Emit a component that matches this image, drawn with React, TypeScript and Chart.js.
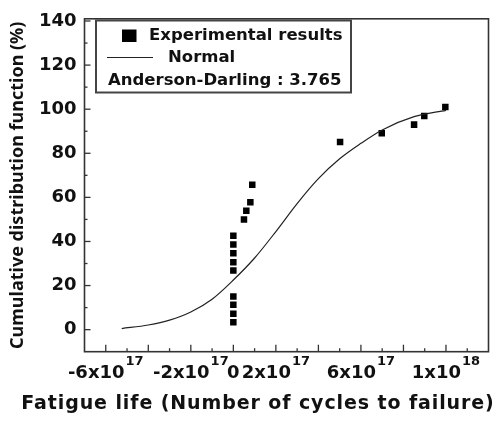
import React, { useEffect, useRef } from 'react';
import { Chart, registerables } from 'chart.js';

Chart.register(...registerables);

// Experimental results (x in units of 1e17 cycles, y in %)
const expX = [0, 0, 0, 0, 0, 0, 0, 0, 0, 0.5, 0.61, 0.8, 0.89, 5.02, 6.98, 8.5, 8.98, 9.97];
const expY = [3.4, 7.2, 11.3, 15.0, 26.8, 30.6, 34.7, 38.6, 42.6, 50.0, 53.9, 57.8, 65.7, 85.1, 89.1, 93.0, 96.9, 101.0];

// Normal fit curve
const normX = [-5.25, -4, -3, -2, -1, 0, 1, 2, 3, 4, 5, 6, 7, 8.5, 10];
const normY = [0.5, 2.1, 4.3, 8.0, 13.8, 22.5, 32.5, 44.5, 57.2, 68.5, 77.5, 84.5, 90.6, 96.6, 99.5];

const yTickValues = [0, 20, 40, 60, 80, 100, 120, 140];
const yMinorTicks = [10, 30, 50, 70, 90, 110, 130];
const xMajorTicks = [-6, -4, -2, 0, 2, 4, 6, 8, 10];
const xMinorTicks = [-5, -3, -1, 1, 3, 5, 7, 9, 11];
const xLabelValues = [-6, -2, 0, 2, 6, 10];
const xLabelBase = ['-6x10', '-2x10', '0', '2x10', '6x10', '1x10'];
const xLabelExp = ['17', '17', '', '17', '17', '18'];

const legendLabels = ['Experimental results', 'Normal', 'Anderson-Darling : 3.765'];
const xTitle = 'Fatigue life (Number of cycles to failure)';
const yTitle = 'Cumulative distribution function (%)';

const FONT = '"DejaVu Sans", sans-serif';

const decor = {
  id: 'decor',
  afterDraw(chart: any) {
    const { ctx, chartArea: a, scales } = chart;
    const x = scales.x;
    const y = scales.y;
    ctx.save();
    ctx.strokeStyle = '#333';
    ctx.lineWidth = 1.3;
    const seg = (x1: number, y1: number, x2: number, y2: number) => {
      ctx.beginPath();
      ctx.moveTo(x1, y1);
      ctx.lineTo(x2, y2);
      ctx.stroke();
    };
    xMajorTicks.forEach((v) => { const p = x.getPixelForValue(v); seg(p, a.bottom, p, a.bottom - 7); });
    xMinorTicks.forEach((v) => { const p = x.getPixelForValue(v); seg(p, a.bottom, p, a.bottom - 3.5); });
    yTickValues.forEach((v) => { const p = y.getPixelForValue(v); seg(a.left, p, a.left + 6, p); });
    yMinorTicks.forEach((v) => { const p = y.getPixelForValue(v); seg(a.left, p, a.left + 3, p); });

    // frame
    ctx.lineWidth = 1.6;
    ctx.strokeStyle = '#333';
    ctx.strokeRect(a.left, a.top, a.right - a.left, a.bottom - a.top);

    // x tick labels with superscript exponents
    ctx.fillStyle = '#111';
    ctx.textBaseline = 'alphabetic';
    ctx.textAlign = 'left';
    xLabelValues.forEach((v, i) => {
      const p = x.getPixelForValue(v);
      ctx.font = `bold 18px ${FONT}`;
      const wb = ctx.measureText(xLabelBase[i]).width;
      ctx.font = `bold 13px ${FONT}`;
      const we = xLabelExp[i] ? ctx.measureText(xLabelExp[i]).width + 1 : 0;
      const start = p - (wb + we) / 2;
      ctx.font = `bold 18px ${FONT}`;
      ctx.fillText(xLabelBase[i], start, 378);
      if (xLabelExp[i]) {
        ctx.font = `bold 13px ${FONT}`;
        ctx.fillText(xLabelExp[i], start + wb + 1, 365);
      }
    });

    // x title
    ctx.font = `bold 19px ${FONT}`;
    (ctx as any).letterSpacing = '0.9px';
    ctx.textAlign = 'center';
    ctx.textBaseline = 'middle';
    ctx.fillText(xTitle, 258, 404);
    (ctx as any).letterSpacing = '0px';

    // legend box
    ctx.lineWidth = 2;
    ctx.strokeStyle = '#444';
    ctx.strokeRect(96, 20.5, 255, 72);
    ctx.fillStyle = '#000';
    ctx.fillRect(122, 29.5, 14.5, 12.5);
    ctx.lineWidth = 1.2;
    ctx.strokeStyle = '#222';
    seg(107, 57.5, 153, 57.5);
    ctx.fillStyle = '#111';
    ctx.font = `bold 16.5px ${FONT}`;
    ctx.textAlign = 'left';
    ctx.textBaseline = 'middle';
    ctx.fillText(legendLabels[0], 149, 36);
    ctx.fillText(legendLabels[1], 168, 58);
    ctx.fillText(legendLabels[2], 108, 80.5);
    ctx.restore();
  },
};

export default function App() {
  const canvasRef = useRef<HTMLCanvasElement | null>(null);

  useEffect(() => {
    const canvas = canvasRef.current;
    if (!canvas) return;
    const chart = new Chart(canvas, {
      type: 'scatter',
      data: {
        datasets: [
          {
            type: 'line',
            label: legendLabels[1],
            data: normX.map((v, i) => ({ x: v, y: normY[i] })),
            borderColor: '#222',
            borderWidth: 1.2,
            pointRadius: 0,
            fill: false,
            cubicInterpolationMode: 'monotone',
          } as any,
          {
            type: 'scatter',
            label: legendLabels[0],
            data: expX.map((v, i) => ({ x: v, y: expY[i] })),
            backgroundColor: '#000',
            borderWidth: 0,
            pointStyle: 'rect',
            pointRadius: 4.6,
          },
        ],
      },
      plugins: [decor],
      options: {
        responsive: false,
        maintainAspectRatio: false,
        animation: false,
        devicePixelRatio: 1,
        layout: { padding: { left: 0, top: 12.7, right: 9.5, bottom: 0 } },
        plugins: { legend: { display: false }, tooltip: { enabled: false } },
        scales: {
          x: {
            type: 'linear',
            min: -7,
            max: 12,
            afterFit: (s: any) => { s.height = 71.3; },
            ticks: { display: false },
            grid: { display: false, drawTicks: false },
            border: { display: false },
            title: { display: false },
          },
          y: {
            type: 'linear',
            min: -10,
            max: 141,
            afterBuildTicks: (s: any) => { s.ticks = yTickValues.map((v) => ({ value: v })); },
            afterFit: (s: any) => { s.width = 84.5; },
            grid: { display: false, drawTicks: false },
            border: { display: false },
            ticks: { padding: 8, color: '#111', font: { family: FONT, weight: 'bold', size: 18 } },
            title: {
              display: true,
              text: yTitle,
              color: '#111',
              font: { family: '"Noto Sans", sans-serif', weight: 'bold', size: 18 },
              padding: { top: 7, bottom: 0 },
            },
          },
        },
      } as any,
    });
    return () => chart.destroy();
  }, []);

  return (
    <div style={{ position: 'absolute', left: 0, top: 0, width: 498, height: 423 }}>
      <canvas ref={canvasRef} width={498} height={423} style={{ display: 'block' }} />
    </div>
  );
}
